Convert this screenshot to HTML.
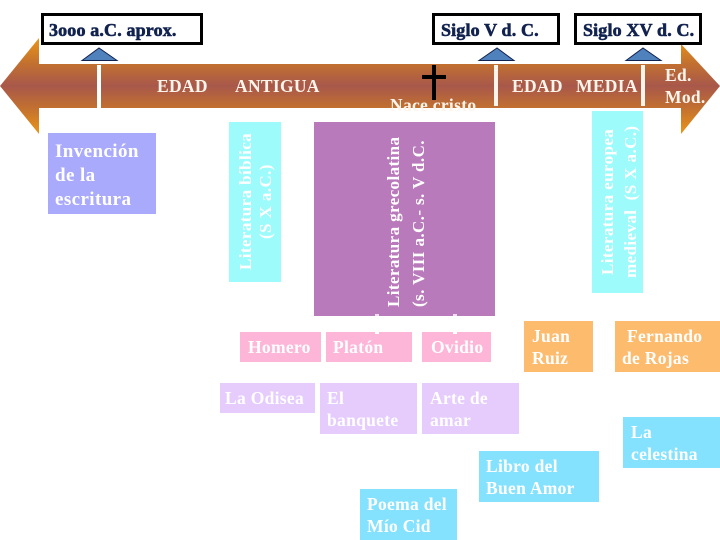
<!DOCTYPE html>
<html>
<head>
<meta charset="utf-8">
<style>
html,body{margin:0;padding:0;background:#fff;}
svg{display:block;}
text{font-family:"Liberation Serif",serif;font-weight:bold;font-size:17.5px;fill:#fff;letter-spacing:.3px;}
.h{fill:#12224f;font-size:18px;letter-spacing:.15px;stroke:#12224f;stroke-width:.6px;}
.a{fill:#fdf5ec;font-size:17.5px;letter-spacing:.3px;}
.r{font-size:17px;letter-spacing:.4px;}
.i{font-size:19px;letter-spacing:.4px;}
</style>
</head>
<body>
<svg width="720" height="540" viewBox="0 0 720 540" xmlns="http://www.w3.org/2000/svg">
<defs>
<linearGradient id="g" gradientUnits="userSpaceOnUse" x1="0" y1="38" x2="0" y2="134">
<stop offset="0" stop-color="#EA9518"/>
<stop offset=".27" stop-color="#C27030"/>
<stop offset=".5" stop-color="#A8584A"/>
<stop offset=".73" stop-color="#C27030"/>
<stop offset="1" stop-color="#EA9518"/>
</linearGradient>
</defs>
<rect width="720" height="540" fill="#fff"/>

<polygon points="0,86 39,38 39,64 681,64 681,44 720,86 681,134 681,108 39,108 39,134" fill="url(#g)"/>

<rect x="97" y="65" width="4" height="44" fill="#fff"/>
<rect x="494" y="65" width="4" height="41" fill="#fdf5ec"/>
<rect x="641" y="65" width="4" height="41" fill="#fdf5ec"/>

<g fill="#4F81BD" stroke="#12224f" stroke-width="1">
<polygon points="82,60.5 99,48 117,60.5"/>
<polygon points="479,60.5 497,48 514,60.5"/>
<polygon points="626,60.5 643,48 661,60.5"/>
</g>

<g fill="#fff" stroke="#000" stroke-width="3">
<rect x="42.5" y="14.5" width="159" height="29"/>
<rect x="433.5" y="14.5" width="125" height="29"/>
<rect x="575.5" y="14.5" width="125" height="29"/>
</g>
<text class="h" x="49" y="36">3ooo a.C. aprox.</text>
<text class="h" x="441" y="36">Siglo V d. C.</text>
<text class="h" x="583" y="36">Siglo XV d. C.</text>

<rect x="432" y="65" width="4" height="35" fill="#000"/>
<rect x="422" y="75" width="24" height="4" fill="#000"/>

<text class="a" x="157" y="92">EDAD</text>
<text class="a" x="235" y="92">ANTIGUA</text>
<text class="a" x="512" y="92">EDAD</text>
<text class="a" x="576" y="92">MEDIA</text>
<text class="a" x="665" y="81">Ed.</text>
<text class="a" x="665" y="103">Mod.</text>
<text class="a" x="390" y="111">Nace cristo</text>

<rect x="48" y="133" width="108" height="81" fill="#AAAAFC"/>
<text class="i" x="55" y="157">Invención</text>
<text class="i" x="55" y="181">de la</text>
<text class="i" x="55" y="205">escritura</text>

<rect x="229" y="122" width="52" height="160" fill="#9EFBFC"/>
<text class="r" transform="translate(251,270) rotate(-90)">Literatura bíblica</text>
<text class="r" transform="translate(271,239) rotate(-90)">(S X a.C.)</text>

<rect x="314" y="122" width="181" height="194" fill="#B97ABB"/>
<text class="r" transform="translate(399,307) rotate(-90)">Literatura grecolatina</text>
<text class="r" transform="translate(424,307) rotate(-90)">(s. VIII a.C.- s. V d.C.</text>
<rect x="375" y="314" width="4" height="2" fill="#f0dff0"/>
<rect x="453" y="314" width="4" height="2" fill="#f0dff0"/>

<rect x="592" y="111" width="51" height="182" fill="#9EFBFC"/>
<text class="r" transform="translate(613,275) rotate(-90)">Literatura europea</text>
<text class="r" transform="translate(636,278) rotate(-90)" xml:space="preserve">medieval  (S X a.C.)</text>

<g fill="#FDB6D8">
<rect x="240" y="332" width="81" height="30"/>
<rect x="326" y="332" width="86" height="30"/>
<rect x="422" y="332" width="69" height="30"/>
</g>
<rect x="375" y="332" width="4" height="2" fill="#fff"/>
<rect x="453" y="332" width="4" height="2" fill="#fff"/>
<text x="248" y="353">Homero</text>
<text x="333" y="353">Platón</text>
<text x="431" y="353">Ovidio</text>

<g fill="#E5CCFD">
<rect x="220" y="383" width="95" height="30"/>
<rect x="320" y="383" width="97" height="51"/>
<rect x="422" y="383" width="97" height="51"/>
</g>
<text x="225" y="404">La Odisea</text>
<text x="327" y="404">El</text>
<text x="327" y="426">banquete</text>
<text x="430" y="404">Arte de</text>
<text x="430" y="426">amar</text>

<g fill="#FDBB6E">
<rect x="524" y="321" width="69" height="51"/>
<rect x="615" y="321" width="105" height="51"/>
</g>
<text x="532" y="342">Juan</text>
<text x="532" y="364">Ruiz</text>
<text x="627" y="342">Fernando</text>
<text x="622" y="364">de Rojas</text>

<g fill="#85E2FF">
<rect x="479" y="451" width="120" height="51"/>
<rect x="360" y="489" width="97" height="51"/>
<rect x="623" y="417" width="97" height="51"/>
</g>
<text x="486" y="472">Libro del</text>
<text x="486" y="494">Buen Amor</text>
<text x="367" y="510">Poema del</text>
<text x="367" y="532">Mío Cid</text>
<text x="631" y="438">La</text>
<text x="631" y="460">celestina</text>
</svg>
</body>
</html>
